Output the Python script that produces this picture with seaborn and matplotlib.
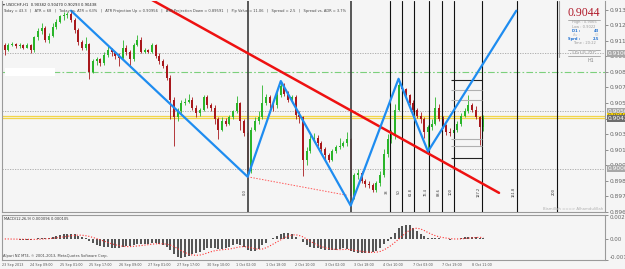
import numpy as np
import matplotlib
matplotlib.use('Agg')
import matplotlib.pyplot as plt
import matplotlib.transforms as mtransforms
from matplotlib.lines import Line2D
from matplotlib.patches import Rectangle
import seaborn as sns

# USDCHF H1, one candle per 2 hours
first_open = 0.9107
closes = [0.9103, 0.9107, 0.9108, 0.9106, 0.9107, 0.9105, 0.9107, 0.9103, 0.9114, 0.9119,
          0.9122, 0.9112, 0.9115, 0.9123, 0.9127, 0.9132, 0.9133, 0.9134, 0.9129, 0.9120,
          0.9110, 0.9105, 0.9108, 0.9084, 0.9093, 0.9095, 0.9092, 0.9099, 0.9103, 0.9101,
          0.9098, 0.9096, 0.9105, 0.9101, 0.9095, 0.9107, 0.9112, 0.9101, 0.9103, 0.9101,
          0.9107, 0.9098, 0.9093, 0.9089, 0.9079, 0.9060, 0.9045, 0.9050, 0.9057, 0.9058,
          0.9060, 0.9053, 0.9048, 0.9051, 0.9062, 0.9055, 0.9053, 0.9043, 0.9034, 0.9041,
          0.9039, 0.9045, 0.9050, 0.9057, 0.9041, 0.9031, 0.8998, 0.9034, 0.9041, 0.9045,
          0.9057, 0.9062, 0.9057, 0.9055, 0.9064, 0.9072, 0.9065, 0.9060, 0.9062, 0.9047,
          0.9045, 0.9008, 0.9015, 0.9026, 0.9027, 0.9022, 0.9017, 0.9012, 0.9008, 0.9015,
          0.9019, 0.9020, 0.9022, 0.9026, 0.8976, 0.8995, 0.8996, 0.8989, 0.8987, 0.8986,
          0.8982, 0.8988, 0.8995, 0.9013, 0.9026, 0.9029, 0.9051, 0.9073, 0.9069, 0.9064,
          0.9057, 0.9051, 0.9046, 0.9043, 0.9032, 0.9036, 0.9039, 0.9053, 0.9043, 0.9038,
          0.9032, 0.9031, 0.9034, 0.9039, 0.9046, 0.9050, 0.9055, 0.9051, 0.9045, 0.9036,
          0.90438]
highs = [0.9109, 0.9109, 0.9110, 0.9109, 0.9109, 0.9108, 0.9109, 0.9108, 0.9115, 0.9122,
         0.9126, 0.9124, 0.9118, 0.9126, 0.9130, 0.9133, 0.9136, 0.9136, 0.9137, 0.9131,
         0.9122, 0.9112, 0.9114, 0.9109, 0.9095, 0.9097, 0.9096, 0.9101, 0.9106, 0.9105,
         0.9102, 0.9100, 0.9112, 0.9107, 0.9103, 0.9109, 0.9116, 0.9114, 0.9105, 0.9104,
         0.9109, 0.9108, 0.9100, 0.9095, 0.9091, 0.9081, 0.9062, 0.9053, 0.9060, 0.9061,
         0.9065, 0.9062, 0.9055, 0.9053, 0.9064, 0.9064, 0.9057, 0.9055, 0.9045, 0.9045,
         0.9044, 0.9047, 0.9051, 0.9063, 0.9058, 0.9043, 0.9033, 0.9036, 0.9045, 0.9050,
         0.9073, 0.9065, 0.9064, 0.9060, 0.9067, 0.9076, 0.9074, 0.9067, 0.9064, 0.9064,
         0.9050, 0.9046, 0.9019, 0.9029, 0.9031, 0.9029, 0.9024, 0.9019, 0.9014, 0.9017,
         0.9021, 0.9027, 0.9024, 0.9032, 0.9027, 0.8996, 0.9000, 0.8998, 0.8991, 0.8989,
         0.8988, 0.8989, 0.8998, 0.9017, 0.9030, 0.9034, 0.9056, 0.9078, 0.9074, 0.9070,
         0.9065, 0.9060, 0.9053, 0.9049, 0.9045, 0.9038, 0.9043, 0.9062, 0.9056, 0.9046,
         0.9039, 0.9035, 0.9037, 0.9041, 0.9048, 0.9053, 0.9064, 0.9057, 0.9054, 0.9046,
         0.9047]
lows = [0.9099, 0.9102, 0.9106, 0.9105, 0.9105, 0.9104, 0.9105, 0.9100, 0.9101, 0.9112,
        0.9117, 0.9110, 0.9109, 0.9114, 0.9121, 0.9126, 0.9129, 0.9131, 0.9127, 0.9118,
        0.9107, 0.9103, 0.9103, 0.9078, 0.9083, 0.9090, 0.9089, 0.9090, 0.9097, 0.9098,
        0.9095, 0.9089, 0.9095, 0.9099, 0.9088, 0.9093, 0.9106, 0.9100, 0.9100, 0.9100,
        0.9100, 0.9096, 0.9091, 0.9087, 0.9077, 0.9043, 0.9020, 0.9041, 0.9048, 0.9055,
        0.9057, 0.9051, 0.9045, 0.9046, 0.9050, 0.9053, 0.9050, 0.9039, 0.9026, 0.9033,
        0.9037, 0.9038, 0.9043, 0.9048, 0.9034, 0.9028, 0.8993, 0.8996, 0.9033, 0.9039,
        0.9043, 0.9055, 0.9053, 0.9050, 0.9053, 0.9062, 0.9063, 0.9058, 0.9057, 0.9043,
        0.9040, 0.8994, 0.9003, 0.9014, 0.9023, 0.9020, 0.9014, 0.9008, 0.9006, 0.9007,
        0.9014, 0.9017, 0.9019, 0.9020, 0.8968, 0.8974, 0.8991, 0.8988, 0.8984, 0.8983,
        0.8980, 0.8980, 0.8985, 0.8993, 0.9010, 0.9022, 0.9026, 0.9050, 0.9067, 0.9061,
        0.9055, 0.9049, 0.9044, 0.9040, 0.9027, 0.9015, 0.9034, 0.9038, 0.9041, 0.9035,
        0.9029, 0.9028, 0.9028, 0.9032, 0.9037, 0.9045, 0.9048, 0.9049, 0.9043, 0.9021,
        0.9033]

# MACD(12,26,9), in units of 0.0001
macd_main = [0.5, 0.3, 0.1, 0.0, -0.2, -0.3, -0.2, -0.3, 0.2, 0.8,
             1.2, 1.0, 1.5, 2.2, 3.0, 3.6, 4.2, 4.6, 4.5, 4.0,
             3.0, 1.8, 1.0, -1.0, -3.0, -4.5, -5.5, -6.0, -6.5, -7.0,
             -7.0, -6.8, -6.0, -5.5, -5.5, -5.0, -4.0, -4.0, -3.5, -3.5,
             -3.0, -3.2, -3.8, -4.5, -6.0, -9.0, -12.5, -15.0, -15.5, -15.0,
             -13.5, -12.5, -11.5, -10.5, -8.5, -7.5, -7.0, -7.5, -8.0, -8.0,
             -7.5, -6.5, -5.0, -4.0, -4.5, -6.0, -9.0, -10.0, -9.5, -8.0,
             -5.0, -3.0, 0.0, 1.5, 3.0, 4.5, 5.5, 5.2, 4.0, 2.0,
             0.5, -2.5, -5.0, -6.5, -7.0, -7.5, -8.0, -8.5, -9.0, -9.0,
             -8.5, -8.0, -7.5, -8.0, -9.5, -10.5, -11.0, -11.5, -11.5, -11.0,
             -10.5, -9.5, -7.0, -4.0, -1.0, 2.0, 5.0, 9.0, 11.0, 12.0,
             11.5, 9.5, 7.0, 4.5, 2.5, 1.2, 1.0, 1.0, 0.8, 0.5,
             0.0, -0.3, 0.0, 0.5, 1.2, 1.8, 2.2, 2.2, 1.8, 1.5,
             1.0]
macd_signal = [0.3, 0.3, 0.2, 0.2, 0.1, 0.0, 0.0, -0.1,
               -0.1, 0.0, 0.2, 0.4, 0.6, 0.9, 1.2, 1.6,
               2.0, 2.5, 3.0, 3.3, 3.5, 3.4, 3.0, 2.4,
               1.5, 0.5, -0.5, -1.5, -2.6, -3.6, -4.5, -5.2,
               -5.7, -6.0, -6.0, -5.8, -5.5, -5.2, -4.8, -4.4,
               -4.0, -3.7, -3.6, -3.7, -4.0, -4.8, -6.0, -7.8,
               -9.5, -11.0, -12.3, -13.0, -13.2, -13.0, -12.3, -11.3,
               -10.3, -9.5, -9.0, -8.6, -8.3, -8.0, -7.5, -6.8,
               -6.2, -6.0, -6.4, -7.0, -7.8, -8.2, -8.0, -7.0,
               -5.5, -3.8, -2.0, -0.3, 1.3, 2.6, 3.5, 3.8,
               3.2, 2.0, 0.3, -1.6, -3.3, -4.8, -6.0, -6.9,
               -7.6, -8.1, -8.4, -8.5, -8.4, -8.3, -8.5, -9.0,
               -9.5, -10.0, -10.4, -10.7, -10.8, -10.6, -10.0, -8.8,
               -7.0, -5.0, -2.5, 0.0, 2.8, 5.5, 7.5, 8.8,
               9.2, 8.6, 7.2, 5.6, 4.2, 3.0, 2.1, 1.5,
               1.0, 0.6, 0.3, 0.3, 0.4, 0.7, 1.0, 1.3,
               1.5, 1.6, 1.6]

tick_bars = [7, 15, 23, 31, 39, 47, 55, 63, 71, 79, 87, 95, 103, 111, 119, 127]
tick_labels = ['24 Sep 09:00', '25 Sep 01:00', '25 Sep 17:00', '26 Sep 09:00', '27 Sep 01:00',
               '27 Sep 17:00', '30 Sep 10:00', '1 Oct 02:00', '1 Oct 18:00', '2 Oct 10:00',
               '3 Oct 02:00', '3 Oct 18:00', '4 Oct 10:00', '7 Oct 03:00', '7 Oct 19:00',
               '8 Oct 11:00']
price_ticks = [0.91380, 0.91245, 0.91110, 0.90975, 0.90840, 0.90705, 0.90570,
               0.90435, 0.90300, 0.90165, 0.90030, 0.89895, 0.89760, 0.89625]
macd_ticks = [0.002012, 0.0, -0.00171]
macd_tick_labels = ['0.002012', '0.00', '-0.00171']

# chart objects
zz_bars = [18, 66, 75, 94, 107, 115, 139]
zz_prices = [0.9137, 0.8993, 0.9076, 0.8968, 0.9078, 0.9015, 0.9137]
trend_bars = [40, 134.3]
trend_prices = [0.91463, 0.89791]
dotted_bars = [66, 93]
dotted_prices = [0.8993, 0.8977]
fib_start, fib_end = 94, 122
fib_levels = [38.2, 50, 61.8, 76.4, 88.6, 100, 127.2, 161.8, 200]
fib_names = ['38', '50', '61.8', '76.4', '88.6', '100', '127.2', '161.8', '200']
round_levels = [0.9100, 0.9050, 0.9000]
atr_level = 0.9084
yellow_levels = [0.9046, 0.9044]
fib_box_prices = [0.9077, 0.9068, 0.9060, 0.9026, 0.9020, 0.9009]
fib_box_bars = (121.3, 129.7)

bg = '#f5f5f5'
green = '#2ab52a'
red = '#a8181c'
sns.set_style('white', {'axes.facecolor': bg, 'figure.facecolor': bg})
plt.rcParams['font.family'] = ['DejaVu Sans']

W, H = 625, 269
def px_box(x0, y0, x1, y1):
    return [x0 / W, 1 - y1 / H, (x1 - x0) / W, (y1 - y0) / H]

fig = plt.figure(figsize=(6.25, 2.69), dpi=100, facecolor=bg)
ax = fig.add_axes(px_box(2, 1, 605, 212))
axm = fig.add_axes(px_box(2, 215, 605, 260), sharex=ax)

# candles
c = np.array(closes)
o = np.r_[first_open, c[:-1]]
hi = np.maximum(np.array(highs), np.maximum(o, c))
lo = np.minimum(np.array(lows), np.minimum(o, c))
bars = np.arange(len(c))
cols = np.where(c >= o, green, red)
ax.vlines(bars, lo, hi, colors=cols, lw=0.6, zorder=3)
body = np.maximum(np.abs(c - o), 0.00002)
ax.bar(bars, body, bottom=np.minimum(o, c), width=0.55, color=cols, lw=0, zorder=3)

# horizontal levels
for lv in round_levels:
    ax.axhline(lv, color='#a5a5a5', lw=0.6, ls=(0, (1.5, 1.5)), zorder=2)
ax.axhline(atr_level, color='#7cd07c', lw=0.8, ls=(0, (6, 2, 1.5, 2)), zorder=2)
for lv in yellow_levels:
    ax.axhline(lv, color='#f2d54a', lw=0.9, zorder=2)
ax.add_patch(Rectangle((0.05, 0.90808), 13.55, 0.00069, fc='white', ec='none', zorder=5))

# fib time zones
ax.axvline(zz_bars[1], color='#4a4a4a', lw=1.3, zorder=4)
ax.axvline(fib_start, color='#4a4a4a', lw=1.3, zorder=4)
ax.text(zz_bars[1] - 0.9, 0.8980, '0.0', rotation=90, fontsize=2.6, ha='center', va='center', color='#333')
for lv, name in zip(fib_levels, fib_names):
    xb = fib_start + lv / 100 * (fib_end - fib_start)
    ax.axvline(xb, color='#111111', lw=0.8, zorder=4)
    ax.text(xb - 0.9, 0.8980, name, rotation=90, fontsize=2.6, ha='center', va='center', color='#333')

# fib box
for i, p in enumerate(fib_box_prices):
    edge = i in (0, len(fib_box_prices) - 1)
    ax.hlines(p, *fib_box_bars, color='#222' if edge else '#b0b0b0', lw=0.8, zorder=4)

# lines
sns.lineplot(x=trend_bars, y=trend_prices, color='#ee1111', lw=1.8, ax=ax, zorder=5)
sns.lineplot(x=dotted_bars, y=dotted_prices, color='#ff5a5a', lw=0.7, linestyle=(0, (1.5, 1.5)), ax=ax, zorder=5)
sns.lineplot(x=zz_bars, y=zz_prices, sort=False, color='#1e8cf0', lw=1.6, ax=ax, zorder=6)

ax.set_xlim(-0.76, 163.1)
ax.set_ylim(0.89636, 0.91454)
ax.yaxis.tick_right()
ax.set_yticks(price_ticks)
ax.set_yticklabels([f'{v:.5f}' for v in price_ticks])
ax.tick_params(axis='y', labelsize=4.2, length=2, pad=1.5, colors='#666', width=0.5)
ax.tick_params(axis='x', bottom=False, labelbottom=False)
ax.set_xlabel('')
ax.set_ylabel('')
for s in ax.spines.values():
    s.set_color('#9a9a9a')
    s.set_linewidth(0.8)
ax.spines['top'].set_visible(False)

# price boxes on the right scale
tr = mtransforms.blended_transform_factory(ax.transAxes, ax.transData)
for lv in round_levels:
    ax.text(1.004, lv, f'{lv:.5f}', transform=tr, fontsize=4.2, color='white', va='center', ha='left',
            clip_on=False, bbox=dict(boxstyle='square,pad=0.15', fc='#a8a8a8', ec='none'))
ax.text(1.004, yellow_levels[0], f'{yellow_levels[0]:.5f}', transform=tr, fontsize=4.2, color='#555', va='center',
        ha='left', clip_on=False, bbox=dict(boxstyle='square,pad=0.1', fc='#ffd700', ec='none'))
ax.text(1.004, closes[-1], f'{closes[-1]:.5f}', transform=tr, fontsize=4.2, color='white', va='center', ha='left',
        clip_on=False, bbox=dict(boxstyle='square,pad=0.15', fc='#6d6d6d', ec='none'))

# MACD panel
m = np.array(macd_main) * 1e-4
sg = np.array(macd_signal) * 1e-4
axm.bar(bars, m, width=0.55, color='#555555', lw=0)
sns.lineplot(x=bars, y=sg, color='#ff3030', lw=0.8, linestyle=(0, (1, 1.6)), ax=axm)
axm.set_ylim(-0.00171, 0.002012)
axm.yaxis.tick_right()
axm.set_yticks(macd_ticks)
axm.set_yticklabels(macd_tick_labels)
axm.tick_params(axis='y', labelsize=4.0, length=2, pad=1.5, colors='#666', width=0.5)
ylabs = axm.get_yticklabels()
ylabs[0].set_va('top')
ylabs[-1].set_va('bottom')
axm.set_xticks([-0.7] + [b - 0.1 for b in tick_bars])
axm.set_xticklabels(['23 Sep 2013'] + tick_labels, ha='left')
axm.tick_params(axis='x', labelsize=2.4, length=1.5, pad=0.8, colors='#555', width=0.5)
axm.set_xlabel('')
axm.set_ylabel('')
for s in axm.spines.values():
    s.set_color('#9a9a9a')
    s.set_linewidth(0.8)

# texts
def ftext(x, y, s, **kw):
    fig.text(x / W, 1 - y / H, s, **kw)

ftext(3, 5, '\u25be USDCHF,H1  0.90382 0.90470 0.90293 0.90438', fontsize=2.7, color='#222', va='center')
ftext(3, 11, 'Today = 43.3   |   ATR = 68   |   Today vs. ATR = 63%   |   ATR Projection Up = 0.90956   |   '
      'ATR Projection Down = 0.89591   |   Pip Value = 11.06   |   Spread = 2.5   |   Spread vs. ADR = 3.7%',
      fontsize=2.6, color='#444', va='center')
ftext(4, 219, 'MACD(12,26,9) 0.000096 0.000105', fontsize=2.6, color='#333', va='center')
ftext(3, 255.5, 'Alpari NZ MT4, \u00a9 2001-2013, MetaQuotes Software Corp.', fontsize=2.6, color='#444', va='center')
ftext(603, 209.5, 'Bismillah ===> Alhamdulillah', fontsize=2.8, color='#b0b0b0', va='center', ha='right')

# info panel
fig.add_artist(Line2D([559 / W, 559 / W], [1 - 1 / H, 1 - 57 / H], color='#a0a0a0', lw=0.8))
ftext(583.5, 13, '0.9044', fontsize=8.5, color='#b01a2a', family='Liberation Serif', ha='center', va='center')
for yy in (20, 50, 56):
    fig.add_artist(Line2D([568 / W, 600 / W], [1 - yy / H, 1 - yy / H], color='#a0a0a0', lw=0.6))
ftext(584, 22.5, 'High : 0.9065', fontsize=2.6, color='#9a9a9a', ha='center', va='center')
ftext(584, 26.5, 'Low : 0.9022', fontsize=2.6, color='#9a9a9a', ha='center', va='center')
ftext(580, 31, 'D1 :', fontsize=2.6, color='#1e6fd0', ha='right', va='center', weight='bold')
ftext(599, 31, '43', fontsize=2.6, color='#1e6fd0', ha='right', va='center', weight='bold')
ftext(580, 35, 'Av :', fontsize=2.6, color='#c0c0c0', ha='right', va='center')
ftext(599, 35, '63', fontsize=2.6, color='#c0c0c0', ha='right', va='center')
ftext(580, 39.3, 'Sprd :', fontsize=2.6, color='#1e6fd0', ha='right', va='center', weight='bold')
ftext(599, 39.3, '2.5', fontsize=2.6, color='#1e6fd0', ha='right', va='center', weight='bold')
ftext(584, 43.3, 'Time : 20:22', fontsize=2.6, color='#9a9a9a', ha='center', va='center')
ftext(584, 53, 'USDCHF', fontsize=4.0, color='#c0c0c0', ha='center', va='center', weight='bold')
ftext(591, 60, 'H1', fontsize=3.4, color='#888', ha='center', va='center')

plt.savefig('out.png', dpi=100, facecolor=bg)
